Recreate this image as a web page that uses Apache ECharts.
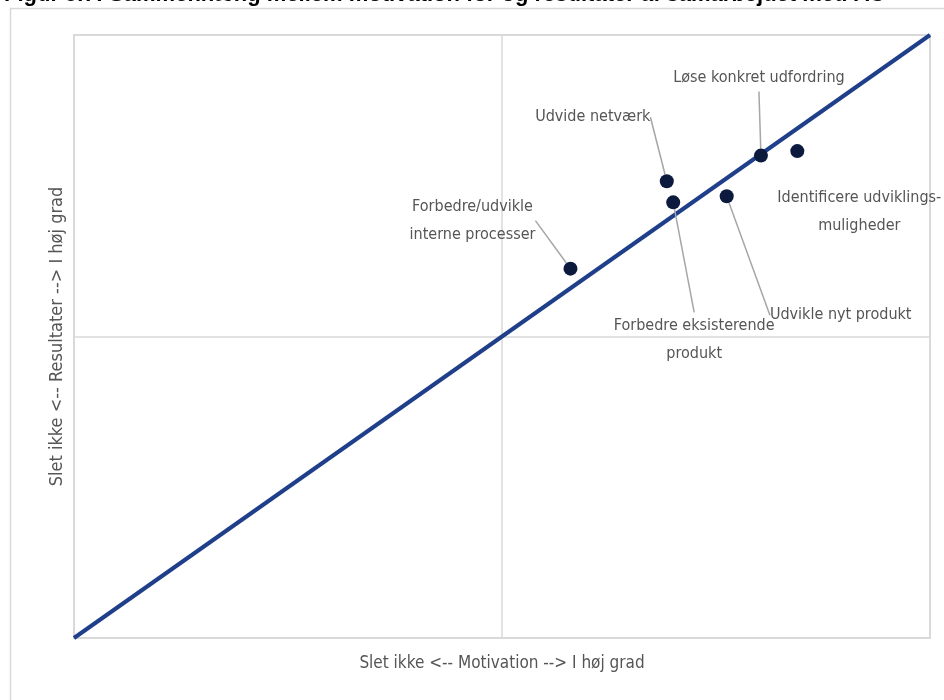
<!DOCTYPE html>
<html>
<head>
<meta charset="utf-8">
<script src="https://cdn.jsdelivr.net/npm/echarts@6/dist/echarts.min.js"></script>
<style>
  html, body { margin: 0; padding: 0; background: #ffffff; }
  #chart { width: 944px; height: 700px; }
</style>
</head>
<body>
<div id="chart"></div>
<script>
// Motivation (x) vs. results (y) for each collaboration purpose
const categories = [
  'Forbedre/udvikle\ninterne processer',
  'Udvide netværk',
  'Forbedre eksisterende\nprodukt',
  'Udvikle nyt produkt',
  'Løse konkret udfordring',
  'Identificere udviklings-\nmuligheder'
];
const motivation = [2.32, 2.77, 2.80, 3.05, 3.21, 3.38];
const results    = [2.45, 3.03, 2.89, 2.93, 3.20, 3.23];

// Reference diagonal (motivation = results)
const diagonal = [[0, 0], [4, 4]];

const axisTitleX = 'Slet ikke <-- Motivation --> I høj grad';
const axisTitleY = 'Slet ikke <-- Resultater --> I høj grad';
const figTitle = 'Figur 5.7: Sammenhæng mellem motivation for og resultater af samarbejdet med AU';

// Label placement (offset from each point) and whether a leader line is drawn
const labelOffsets = [
  { dx: -98, dy: -48, line: true },
  { dx: -74, dy: -64, line: true },
  { dx: 21, dy: 138, line: true },
  { dx: 114, dy: 119, line: true },
  { dx: -2, dy: -78, line: true },
  { dx: 62, dy: 61, line: false }
];

const FONT = '"Liberation Sans Narrow", "DejaVu Sans Condensed", "Roboto", sans-serif';
const TEXT = '#555555';
const GRID = '#d9d9d9';

const chart = echarts.init(document.getElementById('chart'), null, { renderer: 'canvas' });

const scatterData = categories.map((name, i) => ({
  name: name,
  value: [motivation[i], results[i]],
  labelLine: { show: labelOffsets[i].line }
}));

chart.setOption({
  backgroundColor: '#ffffff',
  animation: false,
  title: {
    text: figTitle,
    left: -1,
    top: -21,
    textStyle: { fontFamily: '"Liberation Sans", "Noto Sans", sans-serif', fontWeight: 'bold', fontSize: 22, color: '#000000' }
  },
  graphic: [{
    type: 'rect',
    shape: { x: 10.5, y: 8.5, width: 960, height: 720 },
    style: { fill: 'none', stroke: GRID, lineWidth: 1.5 },
    silent: true
  }],
  grid: {
    left: 74, top: 35, right: 14, bottom: 62,
    show: true, borderColor: GRID, borderWidth: 2, backgroundColor: 'transparent'
  },
  xAxis: {
    type: 'value', min: 0, max: 4, interval: 2,
    axisLine: { show: false }, axisTick: { show: false }, axisLabel: { show: false },
    splitLine: { show: true, lineStyle: { color: GRID, width: 1.5 } },
    name: axisTitleX, nameLocation: 'middle', nameGap: 17,
    nameTextStyle: { fontFamily: FONT, fontSize: 17, color: TEXT }
  },
  yAxis: {
    type: 'value', min: 0, max: 4, interval: 2,
    axisLine: { show: false }, axisTick: { show: false }, axisLabel: { show: false },
    splitLine: { show: true, lineStyle: { color: GRID, width: 1.5 } },
    name: axisTitleY, nameLocation: 'middle', nameGap: 8,
    nameTextStyle: { fontFamily: FONT, fontSize: 18, color: TEXT }
  },
  series: [
    {
      type: 'line',
      data: diagonal,
      symbol: 'none',
      silent: true,
      lineStyle: { color: '#1f3f8a', width: 4 },
      z: 2
    },
    {
      type: 'scatter',
      data: scatterData,
      symbolSize: 14,
      itemStyle: { color: '#0c1a3e', opacity: 1 },
      z: 3,
      label: {
        show: true,
        position: 'inside',
        formatter: p => p.name,
        fontFamily: FONT,
        fontSize: 16,
        lineHeight: 28,
        color: TEXT,
        align: 'center'
      },
      labelLine: {
        show: true,
        lineStyle: { color: '#a6a6a6', width: 1.5 }
      },
      labelLayout: function (params) {
        const o = labelOffsets[params.dataIndex];
        return { dx: o.dx, dy: o.dy };
      }
    }
  ]
});
</script>
</body>
</html>
